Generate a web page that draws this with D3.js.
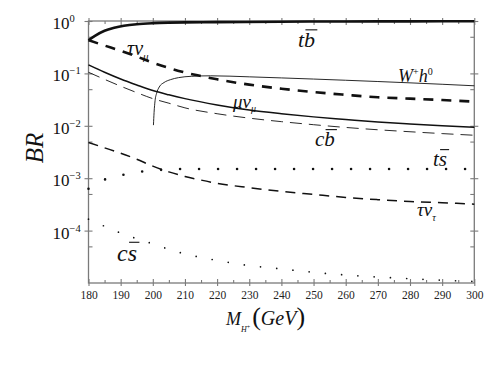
<!DOCTYPE html>
<html>
<head>
<meta charset="utf-8">
<script src="https://cdn.jsdelivr.net/npm/d3@7"></script>
<style>
  body { margin: 0; background: #fff; }
  svg text { font-family: "Liberation Serif", "Times New Roman", serif; fill: #111; }
</style>
</head>
<body>
<div id="chart"></div>
<script>
// ticks
var xMajor = [180, 190, 200, 210, 220, 230, 240, 250, 260, 270, 280, 290, 300];
var xMinor = [185, 195, 205, 215, 225, 235, 245, 255, 265, 275, 285, 295];
var yMajor = [1, 0.1, 0.01, 0.001, 0.0001];
var yExp = ["0", "\u22121", "\u22122", "\u22123", "\u22124"];
var yMinor = [0.5, 0.05, 0.005, 0.0005, 0.00005];

// branching ratios
var tbMass = [180, 182, 185, 188, 191, 195, 200, 205, 210, 220, 240, 260, 280, 300];
var tbBR = [0.43, 0.52, 0.65, 0.74, 0.81, 0.87, 0.91, 0.93, 0.94, 0.95, 0.97, 0.98, 0.985, 0.99];

var tauMuMass = [180, 185, 190, 195, 200, 205, 210, 215, 220, 230, 240, 250, 260, 270, 280, 290, 300];
var tauMuBR = [0.43, 0.34, 0.27, 0.21, 0.16, 0.127, 0.104, 0.089, 0.077, 0.061, 0.051, 0.044, 0.039, 0.035, 0.033, 0.031, 0.029];

var whMass = [200.2, 200.4, 200.7, 201.2, 202, 203.5, 205.5, 208, 212, 218, 230, 240, 250, 260, 270, 280, 290, 300];
var whBR = [0.0103, 0.018, 0.03, 0.042, 0.055, 0.067, 0.076, 0.083, 0.088, 0.09, 0.086, 0.082, 0.078, 0.074, 0.07, 0.066, 0.062, 0.058];

var muMuMass = [180, 185, 190, 195, 200, 205, 210, 220, 230, 240, 250, 260, 270, 280, 290, 300];
var muMuBR = [0.145, 0.105, 0.078, 0.06, 0.047, 0.039, 0.033, 0.025, 0.02, 0.017, 0.0148, 0.0132, 0.0118, 0.0108, 0.01, 0.0094];

var cbMass = [180, 185, 190, 195, 200, 205, 210, 220, 230, 240, 250, 260, 270, 280, 290, 300];
var cbBR = [0.105, 0.077, 0.057, 0.043, 0.033, 0.027, 0.022, 0.017, 0.014, 0.012, 0.0105, 0.0093, 0.0084, 0.0077, 0.0071, 0.0066];

var tsMass = [180, 185, 191, 197, 203, 210, 220, 240, 260, 280, 300];
var tsBR = [0.00063, 0.00094, 0.00117, 0.00135, 0.00145, 0.0015, 0.0015, 0.0015, 0.0015, 0.0015, 0.0015];

var tauTauMass = [180, 185, 190, 195, 200, 205, 210, 215, 220, 230, 240, 250, 260, 270, 280, 290, 300];
var tauTauBR = [0.0048, 0.0038, 0.003, 0.0023, 0.0017, 0.00132, 0.00108, 0.00092, 0.0008, 0.00066, 0.00056, 0.00049, 0.00043, 0.00039, 0.00036, 0.00034, 0.00032];

var csMass = [180, 185, 190, 195, 200, 205, 210, 220, 230, 240, 250, 260, 270, 280, 290, 300];
var csBR = [0.000165, 0.000121, 0.00009, 0.00007, 0.000056, 0.000044, 0.000036, 0.000027, 0.0000215, 0.0000186, 0.000016, 0.0000142, 0.000013, 0.0000121, 0.0000113, 0.0000107];

var width = 500;
var height = 375;
var plot = { left: 88.5, right: 474.3, top: 21, bottom: 283 };
var axisGrey = "#7a7a7a";

var svg = d3.select("#chart")
  .append("svg")
  .attr("width", width)
  .attr("height", height)
  .attr("font-family", "Liberation Serif, serif");

var x = d3.scaleLinear().domain([180, 300]).range([plot.left, plot.right]);
var y = d3.scaleLog().domain([1e-5, 1]).range([plot.bottom, plot.top]);

function zip(m, v) {
  return m.map(function(d, i) { return [d, v[i]]; });
}

var line = d3.line()
  .x(function(d) { return x(d[0]); })
  .y(function(d) { return y(d[1]); })
  .curve(d3.curveMonotoneX);

// frame
svg.append("rect")
  .attr("x", plot.left)
  .attr("y", plot.top)
  .attr("width", plot.right - plot.left)
  .attr("height", plot.bottom - plot.top)
  .style("fill", "none")
  .style("stroke", axisGrey)
  .style("stroke-width", 1.3);

// axes (ticks cross the frame)
function styleAxis(g) {
  g.attr("font-family", null);
  g.select(".domain").remove();
  g.selectAll(".tick line").style("stroke", axisGrey).style("stroke-width", 1.1);
}

var xBottom = svg.append("g")
  .attr("transform", "translate(0," + plot.bottom + ")")
  .call(d3.axisBottom(x).tickValues(xMajor).tickSize(3).tickPadding(4.5).tickFormat(d3.format("d")));
xBottom.call(styleAxis);
xBottom.selectAll(".tick line").attr("y1", -4);
xBottom.selectAll(".tick text")
  .style("font-size", "11.5px")
  .style("fill", "#222");

svg.append("g")
  .attr("transform", "translate(0," + plot.bottom + ")")
  .call(d3.axisBottom(x).tickValues(xMinor).tickSize(-3).tickFormat(""))
  .call(styleAxis);

var xTop = svg.append("g")
  .attr("transform", "translate(0," + plot.top + ")")
  .call(d3.axisTop(x).tickValues(xMajor).tickSize(3).tickFormat(""));
xTop.call(styleAxis);
xTop.selectAll(".tick line").attr("y1", 4);

svg.append("g")
  .attr("transform", "translate(0," + plot.top + ")")
  .call(d3.axisTop(x).tickValues(xMinor).tickSize(-3).tickFormat(""))
  .call(styleAxis);

var yLeft = svg.append("g")
  .attr("transform", "translate(" + plot.left + ",0)")
  .call(d3.axisLeft(y).tickValues(yMajor).tickSize(4).tickFormat(""));
yLeft.call(styleAxis);
yLeft.selectAll(".tick line").attr("x1", 4);

svg.append("g")
  .attr("transform", "translate(" + plot.left + ",0)")
  .call(d3.axisLeft(y).tickValues(yMinor).tickSize(-4).tickFormat(""))
  .call(styleAxis);

var yRight = svg.append("g")
  .attr("transform", "translate(" + plot.right + ",0)")
  .call(d3.axisRight(y).tickValues(yMajor).tickSize(4).tickFormat(""));
yRight.call(styleAxis);
yRight.selectAll(".tick line").attr("x1", -4);

svg.append("g")
  .attr("transform", "translate(" + plot.right + ",0)")
  .call(d3.axisRight(y).tickValues(yMinor).tickSize(-4).tickFormat(""))
  .call(styleAxis);

// y tick labels 10^n
var yLabel = svg.append("g").selectAll("text")
  .data(yMajor)
  .enter()
  .append("text")
  .attr("x", 52.5)
  .attr("y", function(d) { return y(d) + 8; })
  .style("font-size", "17px");
yLabel.append("tspan").text("10");
yLabel.append("tspan")
  .attr("dy", -7)
  .style("font-size", "10.5px")
  .text(function(d, i) { return yExp[i]; });

// curves
var series = [
  { data: zip(tbMass, tbBR), width: 2.6, dash: null },
  { data: zip(tauMuMass, tauMuBR), width: 2.6, dash: "10,8" },
  { data: zip(whMass, whBR), width: 0.9, dash: null },
  { data: zip(muMuMass, muMuBR), width: 1.5, dash: null },
  { data: zip(cbMass, cbBR), width: 0.9, dash: "12,7" },
  { data: zip(tauTauMass, tauTauBR), width: 1.5, dash: "10,7" },
  { data: zip(tsMass, tsBR), width: 2.6, dash: "0,19", round: true },
  { data: zip(csMass, csBR), width: 1.7, dash: "0,16.3", round: true }
];

svg.append("g").selectAll("path")
  .data(series)
  .enter()
  .append("path")
  .attr("d", function(d) { return line(d.data); })
  .style("fill", "none")
  .style("stroke", "#111")
  .style("stroke-width", function(d) { return d.width; })
  .style("stroke-dasharray", function(d) { return d.dash; })
  .style("stroke-linecap", function(d) { return d.round ? "round" : "butt"; });

// curve labels
var labels = svg.append("g").style("font-style", "italic");

// quark pair with a bar over the antiquark
function barLabel(px, py, size, pair) {
  var t = labels.append("text").attr("x", px).attr("y", py).style("font-size", size + "px").text(pair);
  var node = t.node();
  var x0 = node.getStartPositionOfChar(1).x;
  var x1 = node.getEndPositionOfChar(1).x;
  labels.append("line")
    .attr("x1", x0 + size * 0.06)
    .attr("x2", x1 + size * 0.1)
    .attr("y1", py - size * 0.78)
    .attr("y2", py - size * 0.78)
    .style("stroke", "#111")
    .style("stroke-width", 1.1);
}
function subLabel(px, py, size, main, sub, subSize, shift) {
  var t = labels.append("text").attr("x", px).attr("y", py).style("font-size", size + "px");
  t.append("tspan").text(main);
  t.append("tspan").attr("dy", shift).style("font-size", subSize + "px").text(sub);
}

barLabel(298, 47, 22, "tb");
barLabel(315, 146, 21, "cb");
barLabel(433, 166, 21, "ts");
barLabel(117, 261, 24, "cs");
subLabel(127, 55, 20, "\u03c4\u03bd", "\u03bc", 11, 5);
subLabel(233, 108, 19, "\u03bc\u03bd", "\u03bc", 10, 4);
subLabel(417, 216, 19, "\u03c4\u03bd", "\u03c4", 10, 5);

var wh = labels.append("text").attr("x", 398).attr("y", 82).style("font-size", "18px");
wh.append("tspan").text("W");
wh.append("tspan").attr("dy", -7).style("font-size", "10px").style("font-style", "normal").text("+");
wh.append("tspan").attr("dy", 7).text("h");
wh.append("tspan").attr("dy", -7).style("font-size", "10px").style("font-style", "normal").text("0");

// axis titles
svg.append("text")
  .attr("transform", "translate(43,148) rotate(-90)")
  .attr("text-anchor", "middle")
  .style("font-size", "25px")
  .style("font-style", "italic")
  .text("BR");

var xt = svg.append("text")
  .attr("x", 226)
  .attr("y", 325)
  .style("font-size", "18px")
  .style("font-style", "italic");
xt.append("tspan").text("M");
xt.append("tspan").attr("dy", 7).style("font-size", "8px").text("H");
xt.append("tspan").attr("dy", -3).style("font-size", "6px").style("font-style", "normal").text("+");
xt.append("tspan").attr("dy", -4).attr("dx", 2).style("font-size", "26px").style("font-style", "normal").text("(");
xt.append("tspan").style("font-size", "20px").text("GeV");
xt.append("tspan").style("font-size", "26px").style("font-style", "normal").text(")");
</script>
</body>
</html>
